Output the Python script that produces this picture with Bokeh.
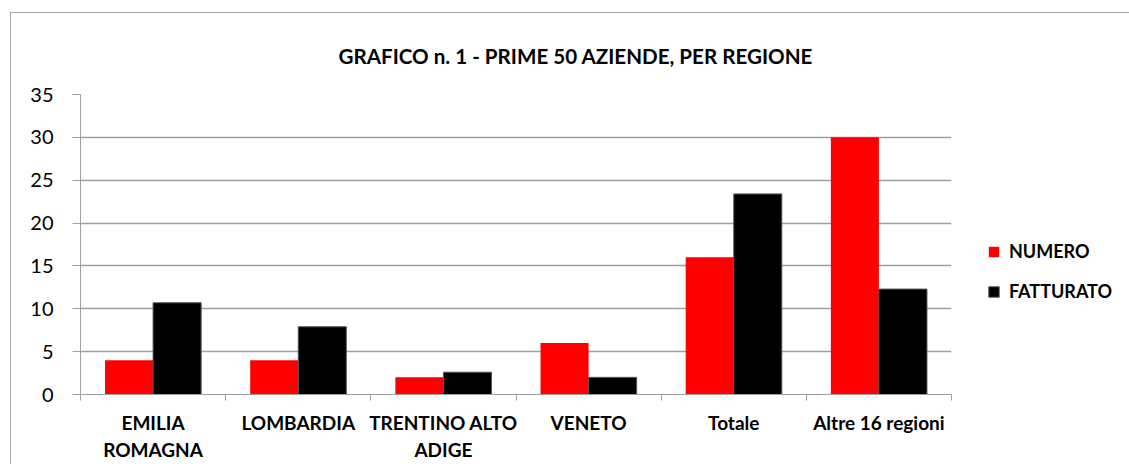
from bokeh.plotting import figure
from bokeh.models import Range1d, FixedTicker, Legend, LegendItem, ColumnDataSource
from bokeh.embed import file_html
from bokeh.resources import INLINE

categories = ["EMILIA\nROMAGNA", "LOMBARDIA", "TRENTINO ALTO\nADIGE", "VENETO", "Totale", "Altre 16 regioni"]
numero = [4, 4, 2, 6, 16, 30]
fatturato = [10.7, 7.9, 2.6, 2.0, 23.4, 12.3]
y_ticks = [0, 5, 10, 15, 20, 25, 30, 35]
title_text = "GRAFICO n. 1 - PRIME 50 AZIENDE, PER REGIONE"
series_names = ["NUMERO", "FATTURATO"]

FONT = "Lato"
n = len(categories)
centers = [i + 0.5 for i in range(n)]
bw = 0.331

src = ColumnDataSource(dict(
    xr=[c - bw / 2 for c in centers],
    xb=[c + bw / 2 for c in centers],
    numero=numero,
    fatturato=fatturato,
))

p = figure(frame_width=871, frame_height=300, output_backend="svg", toolbar_location=None,
           x_range=Range1d(0, n), y_range=Range1d(0, 35),
           min_border_left=69, min_border_right=170, min_border_top=81, min_border_bottom=68)
p.styles = {"margin-left": "10px", "margin-top": "12px",
            "border-left": "1px solid #a6a6a6", "border-top": "1px solid #a6a6a6"}
p.outline_line_color = None
p.background_fill_color = "white"
p.border_fill_color = "white"

r1 = p.vbar(x="xr", width=bw, top="numero", bottom=0, source=src,
            fill_color="#ff0000", line_color=None)
r2 = p.vbar(x="xb", width=bw, top="fatturato", bottom=0, source=src,
            fill_color="#000000", line_color="#555555", line_width=1)

# y axis
ya = p.yaxis[0]
ya.ticker = FixedTicker(ticks=y_ticks)
ya.axis_line_color = "#a0a0a0"
ya.major_tick_line_color = "#a0a0a0"
ya.major_tick_out = 8
ya.major_tick_in = 0
ya.minor_tick_line_color = None
ya.major_label_text_font = FONT
ya.major_label_text_font_size = "20px"
ya.major_label_text_color = "black"
ya.major_label_standoff = 19

# x axis
xa = p.xaxis[0]
xa.ticker = FixedTicker(ticks=centers, minor_ticks=list(range(n + 1)))
xa.major_label_overrides = {c: lab for c, lab in zip(centers, categories)}
xa.axis_line_color = "#a0a0a0"
xa.major_tick_line_color = None
xa.major_tick_out = 0
xa.major_tick_in = 0
xa.minor_tick_line_color = "#a0a0a0"
xa.minor_tick_out = 6
xa.minor_tick_in = 0
xa.major_label_text_font = FONT
xa.major_label_text_font_style = "bold"
xa.major_label_text_font_size = "19px"
xa.major_label_text_color = "black"
xa.major_label_standoff = 10

p.xgrid.grid_line_color = None
p.ygrid.ticker = FixedTicker(ticks=y_ticks)
p.ygrid.grid_line_color = "#a0a0a0"
p.ygrid.grid_line_width = 1.5

p.title.text = title_text
p.title.align = "left"
p.title.offset = 258
p.title.standoff = 54
p.title.text_font = FONT
p.title.text_font_style = "bold"
p.title.text_font_size = "20.6px"
p.title.text_color = "black"

legend = Legend(items=[LegendItem(label=series_names[0], renderers=[r1]),
                       LegendItem(label=series_names[1], renderers=[r2])],
                location=(36, 92), orientation="vertical",
                glyph_width=13, glyph_height=13, label_height=20, spacing=18,
                label_standoff=9, padding=0, margin=0,
                border_line_color=None, background_fill_alpha=0,
                label_text_font=FONT, label_text_font_style="bold",
                label_text_font_size="18px", label_text_color="black")
p.add_layout(legend, "right")

open("out.html", "w").write(file_html(p, INLINE))
